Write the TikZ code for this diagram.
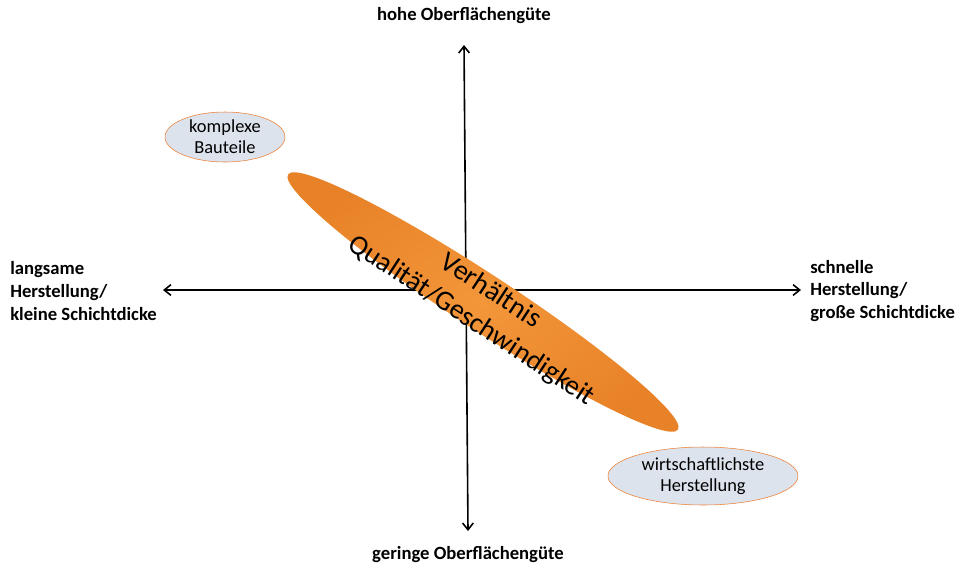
\documentclass[tikz,border=0pt]{standalone}
\usepackage{fontspec}
\setmainfont{Carlito}
\usepackage{tikz}
\usetikzlibrary{arrows.meta,shapes.geometric}

\definecolor{bluegray}{RGB}{220,227,236}
\definecolor{frameorange}{RGB}{237,125,49}
\definecolor{lightorange}{RGB}{243,150,58}
\definecolor{darkorange}{RGB}{232,130,40}

\begin{document}
\begin{tikzpicture}[
        x = 0.75pt,
        y = -0.75pt,
        axis/.style = {
                line width=1.2pt,
                {Straight Barb[length=5pt,width=8pt]}-{Straight Barb[length=5pt,width=8pt]},
            },
        axislabel/.style = {
                font=\bfseries\fontsize{14}{17}\selectfont,
                align=left,
                inner sep=0pt,
            },
        bubble/.style = {
                ellipse,
                draw=frameorange,
                fill=bluegray,
                font=\fontsize{13.8}{16}\selectfont,
                align=center,
                inner sep=0pt,
            },
        ratio/.style = {
                ellipse,
                inner color=lightorange,
                outer color=darkorange,
                minimum width=466*0.75pt,
                minimum height=56*0.75pt,
                rotate=-33.2,
            },
    ]
    \useasboundingbox (0,0) rectangle (964,565);

    % axes
    \coordinate (top) at (464,45);
    \coordinate (bottom) at (468,531);
    \coordinate (left) at (163,290);
    \coordinate (right) at (801,290);
    \draw[axis] (bottom) -- (top);
    \draw[axis] (left) -- (right);

    % axis labels
    \node[axislabel] (high) at (464,16) {hohe Oberflächengüte};
    \node[axislabel] (low) at (468,555) {geringe Oberflächengüte};
    \node[axislabel, anchor=west] (slow) at (10,291)
        {langsame\\Herstellung/\\kleine Schichtdicke};
    \node[axislabel, anchor=west] (fast) at (810,291)
        {schnelle\\Herstellung/\\große Schichtdicke};

    % ellipses
    \node[bubble, minimum width=120*0.75pt, minimum height=50*0.75pt]
        (complex) at (225,137) {komplexe\\Bauteile};
    \node[bubble, minimum width=190*0.75pt, minimum height=58*0.75pt]
        (economic) at (703,476) {wirtschaftlichste\\Herstellung};
    \node[ratio] (ratio) at (483,302) {};
    \node[rotate=-33.2, align=center, inner sep=0pt,
        font=\fontsize{21}{26.5}\selectfont] (ratiotext) at (481,306)
        {Verhältnis\\Qualität/Geschwindigkeit};
\end{tikzpicture}
\end{document}
